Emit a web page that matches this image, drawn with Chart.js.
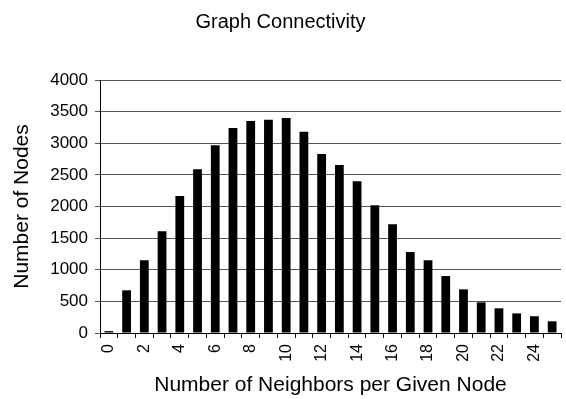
<!DOCTYPE html>
<html>
<head>
<meta charset="utf-8">
<script src="https://cdn.jsdelivr.net/npm/chart.js@4"></script>
<style>
  html, body { margin: 0; padding: 0; background: #fff; }
  #wrap { width: 566px; height: 399px; }
</style>
</head>
<body>
<div id="wrap"><canvas id="chartConnectivity"></canvas></div>
<script>
  // Datos
  const neighbors = ['0','1','2','3','4','5','6','7','8','9','10','11','12','13','14','15','16','17','18','19','20','21','22','23','24','25'];
  const nodeCounts = [30, 675, 1150, 1610, 2165, 2590, 2970, 3240, 3350, 3370, 3400, 3180, 2830, 2655, 2400, 2020, 1720, 1280, 1150, 900, 690, 485, 390, 310, 265, 185];
  const yTicks = [0, 500, 1000, 1500, 2000, 2500, 3000, 3500, 4000];

  const font = 'Liberation Sans, Arial, sans-serif';

  const config = {
    type: 'bar',
    data: {
      labels: neighbors,
      datasets: [{
        label: 'Nodes',
        data: nodeCounts,
        backgroundColor: '#000',
        borderWidth: 0,
        barPercentage: 0.55,
        categoryPercentage: 0.9
      }]
    },
    options: {
      responsive: true,
      maintainAspectRatio: false,
      animation: false,
      layout: { padding: { top: 0, right: 5, left: 0, bottom: 0 } },
      plugins: {
        legend: { display: false },
        tooltip: { enabled: false },
        title: {
          display: true,
          text: 'Graph Connectivity',
          color: '#000',
          font: { family: font, size: 20, weight: 'normal' },
          padding: { top: 10, bottom: 46 }
        }
      },
      scales: {
        x: {
          offset: true,
          afterFit: function(axis) {
            axis.height = 66;
            axis.paddingLeft = 0;
            axis.paddingRight = 0;
          },
          grid: {
            offset: true,
            drawOnChartArea: false,
            color: '#000',
            tickLength: 5
          },
          border: { color: '#000', width: 1 },
          ticks: {
            autoSkip: false,
            minRotation: 90,
            maxRotation: 90,
            color: '#000',
            padding: 6,
            font: { family: font, size: 16 },
            callback: function(value, index) {
              return index % 2 === 0 ? neighbors[index] : '';
            }
          },
          title: {
            display: true,
            text: 'Number of Neighbors per Given Node',
            color: '#000',
            font: { family: font, size: 21 },
            padding: { top: 4, bottom: 1 }
          }
        },
        y: {
          min: 0,
          max: 4000,
          afterBuildTicks: function(axis) {
            axis.ticks = yTicks.map(v => ({ value: v }));
          },
          afterFit: function(axis) {
            axis.width = 100;
          },
          grid: {
            color: '#555',
            tickLength: 5
          },
          border: { color: '#000', width: 1 },
          ticks: {
            color: '#000',
            padding: 7,
            font: { family: font, size: 17 },
            callback: function(value) {
              return String(value);
            }
          },
          title: {
            display: true,
            text: 'Number of Nodes',
            color: '#000',
            font: { family: font, size: 21 },
            padding: { top: 10, bottom: 0 }
          }
        }
      }
    }
  };

  const ctx = document.getElementById('chartConnectivity').getContext('2d');
  new Chart(ctx, config);
</script>
</body>
</html>
